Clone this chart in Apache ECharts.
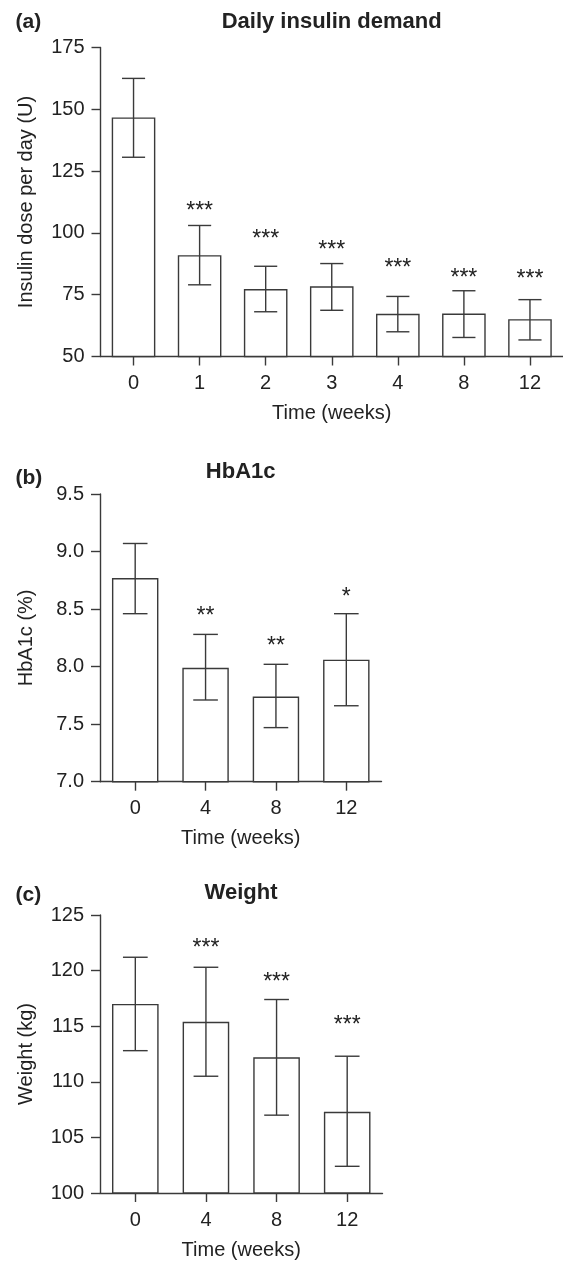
<!DOCTYPE html>
<html>
<head>
<meta charset="utf-8">
<script src="https://cdn.jsdelivr.net/npm/echarts@6/dist/echarts.min.js"></script>
<style>
  html, body { margin: 0; padding: 0; background: #fff; }
  #chart { width: 563px; height: 1261px; }
</style>
</head>
<body>
<div id="chart"></div>
<script>
// ---------- Data ----------
// (a) Daily insulin demand
const weeksA = ['0', '1', '2', '3', '4', '8', '12'];
const insulinMean = [146.7, 91.0, 77.3, 78.4, 67.3, 67.4, 65.1];
const insulinUpper = [162.5, 103.0, 86.5, 87.6, 74.3, 76.6, 73.0];
const insulinLower = [130.6, 79.0, 68.1, 68.7, 60.0, 57.7, 56.7];
const insulinStars = ['', '***', '***', '***', '***', '***', '***'];
const insulinStarAt = [null, 110.7, 99.2, 94.8, 87.4, 83.7, 83.0];
const insulinTicks = { min: 50, max: 175, interval: 25 };

// (b) HbA1c
const weeksB = ['0', '4', '8', '12'];
const hba1cMean = [8.77, 7.99, 7.74, 8.06];
const hba1cUpper = [9.07, 8.28, 8.02, 8.46];
const hba1cLower = [8.46, 7.71, 7.47, 7.66];
const hba1cStars = ['', '**', '**', '*'];
const hba1cStarAt = [null, 8.48, 8.22, 8.64];
const hba1cTicks = { min: 7.0, max: 9.5, interval: 0.5 };

// (c) Weight
const weeksC = ['0', '4', '8', '12'];
const weightMean = [117.0, 115.4, 112.2, 107.3];
const weightUpper = [121.2, 120.3, 117.4, 112.3];
const weightLower = [112.8, 110.5, 107.0, 102.4];
const weightStars = ['', '***', '***', '***'];
const weightStarAt = [null, 122.4, 119.4, 115.5];
const weightTicks = { min: 100, max: 125, interval: 5 };

const panelTitles = ['Daily insulin demand', 'HbA1c', 'Weight'];
const panelLetters = ['(a)', '(b)', '(c)'];
const yNames = ['Insulin dose per day (U)', 'HbA1c (%)', 'Weight (kg)'];
const xName = 'Time (weeks)';

// ---------- Styles ----------
const FONT = '"Liberation Sans", Arial, Helvetica, sans-serif';
const TEXT = '#222222';
const LINE = '#3a3a3a';
const LW = 1.4;

const grids = [
  { left: 100.5, top: 47.5, width: 462.5, height: 309 },
  { left: 100, top: 494, width: 281.5, height: 287.7 },
  { left: 100, top: 915, width: 282.5, height: 285 }
];

function xAxisFor(i, cats) {
  return {
    type: 'category', gridIndex: i, data: cats,
    name: xName, nameLocation: 'middle', nameGap: 47,
    nameTextStyle: { fontFamily: FONT, fontSize: 20, color: TEXT },
    axisLine: { show: true, lineStyle: { color: LINE, width: LW } },
    axisTick: { show: true, alignWithLabel: true, length: 9, lineStyle: { color: LINE, width: LW } },
    axisLabel: { fontFamily: FONT, fontSize: 20, color: TEXT, margin: 17 },
    splitLine: { show: false }
  };
}
function yAxisFor(i, t, name, fmt) {
  return {
    type: 'value', gridIndex: i, min: t.min, max: t.max, interval: t.interval,
    name: name, nameLocation: 'middle', nameGap: 64,
    nameTextStyle: { fontFamily: FONT, fontSize: 20, color: TEXT },
    axisLine: { show: true, lineStyle: { color: LINE, width: LW } },
    axisTick: { show: true, length: 9, lineStyle: { color: LINE, width: LW } },
    axisLabel: { fontFamily: FONT, fontSize: 20, color: TEXT, margin: 16, formatter: fmt },
    splitLine: { show: false }
  };
}

function barSeries(i, vals) {
  return {
    type: 'bar', xAxisIndex: i, yAxisIndex: i, data: vals, barWidth: '66%', z: 2,
    itemStyle: { color: '#ffffff', borderColor: LINE, borderWidth: LW },
    silent: true, animation: false
  };
}
function errSeries(i, lo, hi) {
  return {
    type: 'custom', xAxisIndex: i, yAxisIndex: i, animation: false, silent: true, z: 10,
    data: lo.map((l, k) => [k, l, hi[k]]),
    renderItem: function (params, api) {
      const x = api.value(0);
      const a = api.coord([x, api.value(1)]);
      const b = api.coord([x, api.value(2)]);
      const hw = api.size([1, 0])[0] * 0.175;
      const st = { stroke: LINE, lineWidth: LW };
      return {
        type: 'group', children: [
          { type: 'line', shape: { x1: a[0], y1: a[1], x2: b[0], y2: b[1] }, style: st },
          { type: 'line', shape: { x1: a[0] - hw, y1: a[1], x2: a[0] + hw, y2: a[1] }, style: st },
          { type: 'line', shape: { x1: b[0] - hw, y1: b[1], x2: b[0] + hw, y2: b[1] }, style: st }
        ]
      };
    }
  };
}
function starSeries(i, stars, pos) {
  const data = [], labels = [];
  stars.forEach((s, k) => { if (s) { data.push([k, pos[k]]); labels.push(s); } });
  return {
    type: 'custom', xAxisIndex: i, yAxisIndex: i, animation: false, silent: true, z: 10,
    data: data,
    renderItem: function (params, api) {
      const p = api.coord([api.value(0), api.value(1)]);
      return {
        type: 'text', x: p[0], y: p[1] + 5,
        style: { text: labels[params.dataIndex], fontFamily: FONT, fontSize: 23, fill: TEXT,
                 align: 'center', verticalAlign: 'middle' }
      };
    }
  };
}

const titleXY = [[331.7, 22], [240.7, 471.5], [241, 893]];
const letterXY = [[15.5, 22], [15.5, 478], [15.5, 895]];
const graphics = [];
for (let k = 0; k < 3; k++) {
  graphics.push({ type: 'text', x: titleXY[k][0], y: titleXY[k][1],
    style: { text: panelTitles[k], fontFamily: FONT, fontWeight: 'bold', fontSize: 22, fill: TEXT,
             align: 'center', verticalAlign: 'middle' } });
  graphics.push({ type: 'text', x: letterXY[k][0], y: letterXY[k][1],
    style: { text: panelLetters[k], fontFamily: FONT, fontWeight: 'bold', fontSize: 21, fill: TEXT,
             align: 'left', verticalAlign: 'middle' } });
}

const option = {
  backgroundColor: '#ffffff',
  animation: false,
  grid: grids,
  xAxis: [xAxisFor(0, weeksA), xAxisFor(1, weeksB), xAxisFor(2, weeksC)],
  yAxis: [
    yAxisFor(0, insulinTicks, yNames[0], v => String(v)),
    yAxisFor(1, hba1cTicks, yNames[1], v => v.toFixed(1)),
    yAxisFor(2, weightTicks, yNames[2], v => String(v))
  ],
  series: [
    barSeries(0, insulinMean), errSeries(0, insulinLower, insulinUpper), starSeries(0, insulinStars, insulinStarAt),
    barSeries(1, hba1cMean), errSeries(1, hba1cLower, hba1cUpper), starSeries(1, hba1cStars, hba1cStarAt),
    barSeries(2, weightMean), errSeries(2, weightLower, weightUpper), starSeries(2, weightStars, weightStarAt)
  ],
  graphic: graphics
};

const chart = echarts.init(document.getElementById('chart'), null, { renderer: 'canvas' });
chart.setOption(option);
</script>
</body>
</html>
